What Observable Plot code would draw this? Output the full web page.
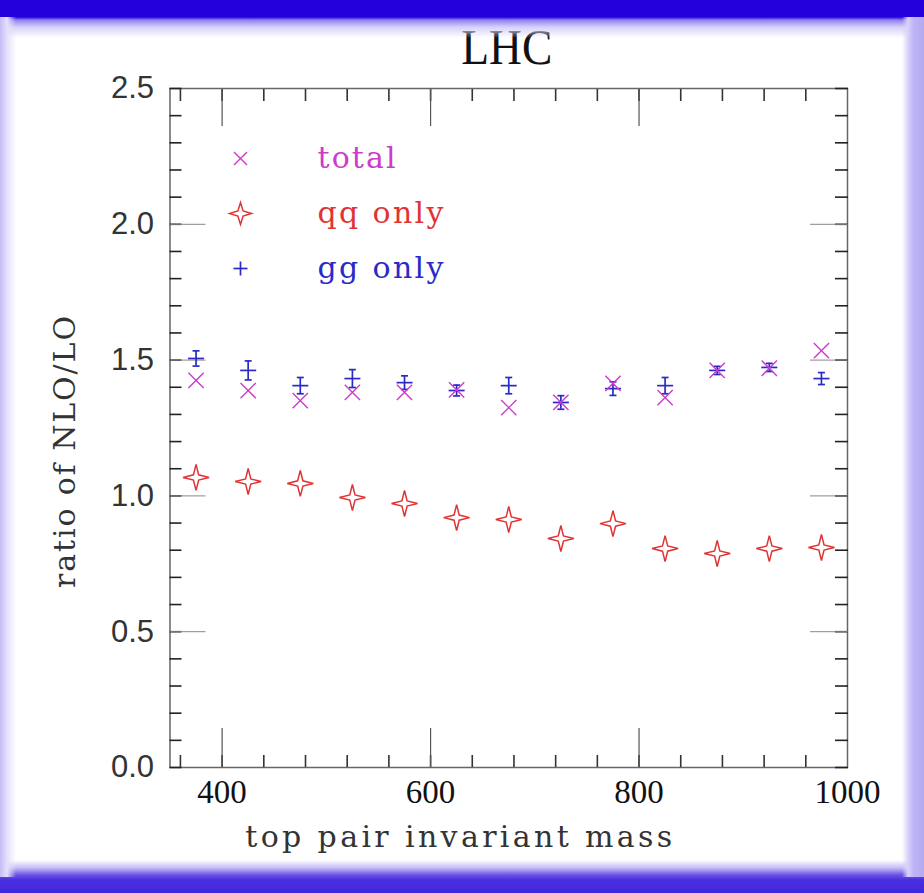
<!DOCTYPE html>
<html>
<head>
<meta charset="utf-8">
<script src="https://cdn.jsdelivr.net/npm/d3@7"></script>
<script src="https://cdn.jsdelivr.net/npm/@observablehq/plot@0.6"></script>
<style>
  html, body { margin: 0; padding: 0; background: #fff; }
  #page { position: relative; width: 924px; height: 893px; overflow: hidden; background: #fff; }
  #chart { position: absolute; left: 0; top: 0; }
  .edge { position: absolute; pointer-events: none; }
  #eTop { left: 0; top: 0; width: 924px; height: 38px;
    background: linear-gradient(to bottom, #2400dc 0px, #2400dc 17px, #8e80ee 20px, #d6d0fa 27px, rgba(255,255,255,0) 38px); }
  #eBottom { left: 0; top: 860px; width: 924px; height: 33px;
    background: linear-gradient(to bottom, rgba(255,255,255,0) 0px, #c4bcf6 8px, #6a50e6 15px, #4a2ee0 20px, #4028dc 33px); }
  #eLeft { left: 0; top: 17px; width: 16px; height: 860px;
    background: linear-gradient(to right, #c4bcf6 0px, #e4e0fc 7px, rgba(255,255,255,0) 16px); }
  #eRight { left: 902px; top: 17px; width: 22px; height: 860px;
    background: linear-gradient(to right, rgba(255,255,255,0) 0px, #d8d2fa 6px, #bcb2f4 12px, #b4aaf2 22px); }
</style>
</head>
<body>
<div id="page">
  <div id="chart"></div>
  <div class="edge" id="eTop"></div>
  <div class="edge" id="eBottom"></div>
  <div class="edge" id="eLeft"></div>
  <div class="edge" id="eRight"></div>
</div>
<script>
// ---- data ----
const mass  = [375, 425, 475, 525, 575, 625, 675, 725, 775, 825, 875, 925, 975];
const total = [1.425, 1.388, 1.351, 1.381, 1.381, 1.390, 1.325, 1.344, 1.414, 1.362, 1.462, 1.470, 1.535];
const qq    = [1.068, 1.053, 1.046, 0.994, 0.972, 0.920, 0.913, 0.843, 0.898, 0.806, 0.788, 0.806, 0.810];
const gg    = [1.506, 1.462, 1.406, 1.432, 1.417, 1.388, 1.406, 1.344, 1.395, 1.406, 1.462, 1.473, 1.432];
const ggErr = [0.028, 0.035, 0.030, 0.033, 0.025, 0.020, 0.030, 0.025, 0.025, 0.030, 0.015, 0.015, 0.022];

const yLabelTicks = [0, 0.5, 1.0, 1.5, 2.0, 2.5];
const yMinorTicks = d3.range(0, 26).map(i => i / 10);
const yMajorTicks = [0.5, 1.0, 1.5, 2.0];
const xLabelTicks = [400, 600, 800, 1000];
const xMinorTicks = d3.range(360, 1000, 40);
const xMajorTicks = [400, 600, 800];

const legendLabels = ["total", "qq only", "gg only"];
const titleText = "LHC";
const xTitle = "top pair invariant mass";
const yTitle = "ratio of NLO/LO";

const cTotal = "#cc3ccc", cQQ = "#e03434", cGG = "#2a2ac8";

const totalData = mass.map((m, i) => ({m, v: total[i]}));
const qqData = mass.map((m, i) => ({m, v: qq[i]}));
const ggData = mass.map((m, i) => ({m, v: gg[i], lo: gg[i] - ggErr[i], hi: gg[i] + ggErr[i]}));

// custom symbols
const star4 = {draw(ctx, size) {
  const r = Math.sqrt(size / Math.PI), s = 2.6;
  ctx.moveTo(r, 0);
  ctx.lineTo(s, -s);
  ctx.lineTo(0, -r);
  ctx.lineTo(-s, -s);
  ctx.lineTo(-r, 0);
  ctx.lineTo(-s, s);
  ctx.lineTo(0, r);
  ctx.lineTo(s, s);
  ctx.closePath();
}};
const hline = {draw(ctx, size) {
  const r = Math.sqrt(size / Math.PI);
  ctx.moveTo(-r, 0); ctx.lineTo(r, 0);
}};
const vline = {draw(ctx, size) {
  const r = Math.sqrt(size / Math.PI);
  ctx.moveTo(0, -r); ctx.lineTo(0, r);
}};

const serif = "'DejaVu Serif', 'Liberation Serif', serif";
const legendMarks = [];
legendLabels.forEach((lab, i) => {
  const col = [cTotal, cQQ, cGG][i];
  const dy = 70 + i * 55;
  if (i === 0) legendMarks.push(Plot.dot([lab], {frameAnchor: "top-left", dx: 70.5, dy, symbol: "times", r: 6, stroke: col, strokeWidth: 1.4}));
  if (i === 1) legendMarks.push(Plot.dot([lab], {frameAnchor: "top-left", dx: 70.5, dy, symbol: star4, r: 11, fill: "none", stroke: col, strokeWidth: 1.5}));
  if (i === 2) {
    legendMarks.push(Plot.dot([lab], {frameAnchor: "top-left", dx: 70.5, dy, symbol: hline, r: 7, stroke: col, strokeWidth: 1.7}));
    legendMarks.push(Plot.dot([lab], {frameAnchor: "top-left", dx: 70.5, dy, symbol: vline, r: 7, stroke: col, strokeWidth: 1.7}));
  }
  legendMarks.push(Plot.text([lab], {frameAnchor: "top-left", dx: 147.5, dy, text: d => d, textAnchor: "start",
    lineAnchor: "middle", fill: col, fontSize: 30, fontFamily: serif}));
});

const chart = Plot.plot({
  width: 924,
  height: 893,
  marginLeft: 169.5,
  marginRight: 77,
  marginTop: 88,
  marginBottom: 126,
  x: {domain: [350, 1000]},
  y: {domain: [0, 2.5]},
  style: {background: "transparent", overflow: "visible"},
  marks: [
    Plot.frame({stroke: "#666", strokeWidth: 1.5}),
    // inward ticks
    Plot.axisY({anchor: "left", ticks: yMinorTicks, tickSize: -12, tickFormat: () => "", stroke: "#222", strokeWidth: 1.6, label: null}),
    Plot.axisY({anchor: "right", ticks: yMinorTicks, tickSize: -13, tickFormat: () => "", stroke: "#222", strokeWidth: 1.6, label: null}),
    Plot.axisY({anchor: "left", ticks: yMajorTicks, tickSize: -36, tickFormat: () => "", stroke: "#888", strokeWidth: 1, label: null}),
    Plot.axisY({anchor: "right", ticks: yMajorTicks, tickSize: -38, tickFormat: () => "", stroke: "#888", strokeWidth: 1, label: null}),
    Plot.axisX({anchor: "top", ticks: xMinorTicks, tickSize: -12, tickFormat: () => "", stroke: "#333", strokeWidth: 1.6, label: null}),
    Plot.axisX({anchor: "bottom", ticks: xMinorTicks, tickSize: -12, tickFormat: () => "", stroke: "#333", strokeWidth: 1.6, label: null}),
    Plot.axisX({anchor: "top", ticks: xMajorTicks, tickSize: -37, tickFormat: () => "", stroke: "#555", strokeWidth: 1.2, label: null}),
    Plot.axisX({anchor: "bottom", ticks: xMajorTicks, tickSize: -39, tickFormat: () => "", stroke: "#555", strokeWidth: 1.2, label: null}),
    // tick labels
    Plot.axisY({anchor: "left", ticks: yLabelTicks, tickSize: 0, tickPadding: 16, tickFormat: d3.format(".1f"),
      fontSize: 31, fontFamily: "'Liberation Sans', sans-serif", fill: "#333", label: null}),
    Plot.axisX({anchor: "bottom", ticks: xLabelTicks, tickSize: 0, tickPadding: 12, tickFormat: d => String(d),
      fontSize: 33, fontFamily: "'Liberation Serif', serif", fill: "#111", label: null}),
    // titles
    Plot.text([titleText], {frameAnchor: "top", dx: -2, dy: -25, text: d => d, lineAnchor: "bottom", textAnchor: "middle",
      fontSize: 50, fontFamily: "'Liberation Serif', serif", fill: "#111"}),
    Plot.text([xTitle], {frameAnchor: "bottom", dx: -50, dy: 70, text: d => d, lineAnchor: "middle", textAnchor: "middle",
      fontSize: 30, fontFamily: serif, fill: "#333"}),
    Plot.text([yTitle], {frameAnchor: "left", dx: -105, dy: 24, rotate: -90, text: d => d, lineAnchor: "middle", textAnchor: "middle",
      fontSize: 30, fontFamily: serif, fill: "#333"}),
    // data
    Plot.ruleX(ggData, {x: "m", y1: "lo", y2: "hi", stroke: cGG, strokeWidth: 1.7}),
    Plot.dot(ggData, {x: "m", y: "v", symbol: hline, r: 8, stroke: cGG, strokeWidth: 1.7}),
    Plot.dot(ggData, {x: "m", y: "hi", symbol: hline, r: 3.5, stroke: cGG, strokeWidth: 1.7}),
    Plot.dot(ggData, {x: "m", y: "lo", symbol: hline, r: 3.5, stroke: cGG, strokeWidth: 1.7}),
    Plot.dot(totalData, {x: "m", y: "v", symbol: "times", r: 7, stroke: cTotal, strokeWidth: 1.4}),
    Plot.dot(qqData, {x: "m", y: "v", symbol: star4, r: 13, fill: "none", stroke: cQQ, strokeWidth: 1.5}),
    ...legendMarks
  ]
});

document.getElementById("chart").appendChild(chart);

// stretch wide-spaced texts to the reference widths
const svgNode = chart.tagName.toLowerCase() === "svg" ? chart : chart.querySelector("svg");
const widths = new Map([
  [titleText, [91, "spacingAndGlyphs"]],
  [xTitle, [427, "spacing"]],
  [yTitle, [272, "spacing"]],
  ["total", [78, "spacing"]],
  ["qq only", [126, "spacing"]],
  ["gg only", [126, "spacing"]]
]);
d3.select(svgNode).selectAll("text").each(function() {
  const w = widths.get(this.textContent);
  if (w) d3.select(this).attr("textLength", w[0]).attr("lengthAdjust", w[1]);
});
</script>
</body>
</html>
